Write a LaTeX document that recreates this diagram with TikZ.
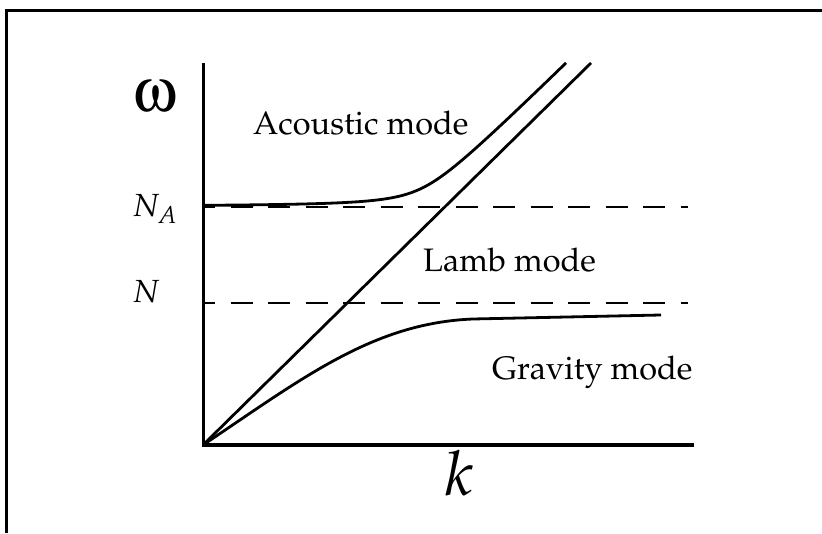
\documentclass[tikz,border=0pt]{standalone}
\usepackage{amsmath}
\usepackage{mathpazo}
\usepackage[T1]{fontenc}
\usepackage[Symbol]{upgreek}
\usepackage{tikz}
\usetikzlibrary{positioning,calc}

\begin{document}
\begin{tikzpicture}[x=10pt, y=10pt,
    frame/.style={line width=3pt},
    axis/.style={line width=3pt},
    curve/.style={line width=2.8pt},
    level/.style={line width=2.6pt, dash pattern=on 22pt off 15.5pt, dash phase=12pt},
    lbl/.style={inner sep=0pt, font=\fontsize{32.5}{36}\selectfont},
    sym/.style={inner sep=0pt, font=\fontsize{32}{36}\selectfont},
    big/.style={inner sep=0pt, font=\fontsize{62}{66}\selectfont}]
\useasboundingbox (-20.3,-8.8) rectangle (61.9,44.5);

% Frame
\draw[frame] (-19.6,-8.8) -- (-19.6,43.4) -- (61.9,43.4);

% Axes
\coordinate (O) at (0,0);
\coordinate (ytop) at (0,38.2);
\coordinate (xend) at (49.1,0);
\draw[axis] (ytop) -- (O) -- (xend);

% Levels N_A and N
\draw[level] (0.2,23.8) -- (48.5,23.8);
\draw[level] (0.2,14.2) -- (48.5,14.2);

% Lamb line
\coordinate (ltop) at (38.8,38.2);
\draw[curve] (O) -- (ltop);

% Acoustic branch
\draw[curve] plot[domain=0:36.3, samples=90, smooth]
    (\x, {((26 + 0.985*\x) + sqrt((21.6 - 0.985*\x)^2 + 14.44))/2});

% Gravity branch
\draw[curve] (O) .. controls (10,6.7) and (17,12.2) .. (27,12.6) -- (45.8,13.0);

% Labels
\node[big, anchor=base west] (omega) at (-7.0,33.3) {$\upomega$};
\node[sym, anchor=base west] (NA) at (-7.1,22.8) {$N_A$};
\node[sym, anchor=base west] (N) at (-7.1,14.2) {$N$};
\node[big, anchor=base west] (k) at (24.2,-5.0) {$k$};
\node[lbl, anchor=base west] (acoustic) at (5.0,31.0) {Acoustic mode};
\node[lbl, anchor=base west] (lamb) at (22.0,17.3) {Lamb mode};
\node[lbl, anchor=base west] (gravity) at (28.9,6.5) {Gravity mode};
\end{tikzpicture}
\end{document}
